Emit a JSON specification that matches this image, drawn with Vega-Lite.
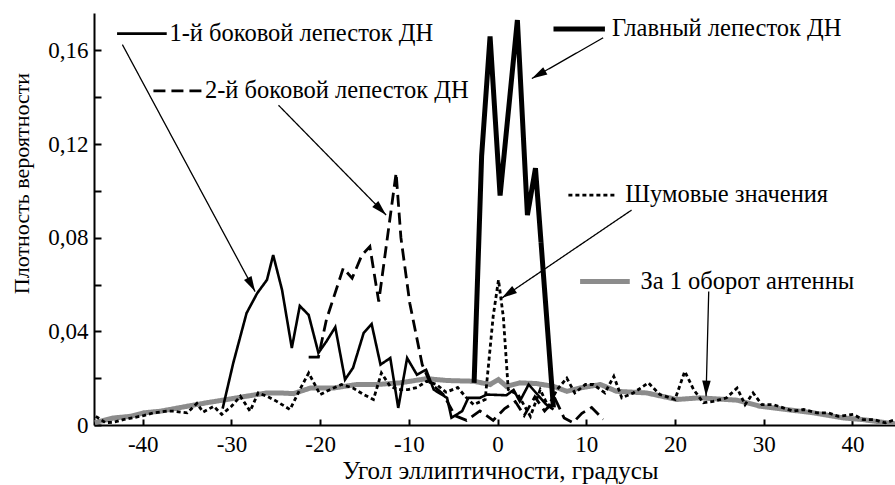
{
  "$schema": "https://vega.github.io/schema/vega-lite/v6.json",
  "width": 801,
  "height": 412,
  "autosize": {"type": "none"},
  "padding": {"left": 94, "top": 13, "right": 0, "bottom": 60},
  "background": "white",
  "config": {
    "font": "Liberation Serif, Times New Roman, serif",
    "view": {"stroke": null},
    "axis": {"grid": false, "domainColor": "black", "domainWidth": 2, "tickColor": "black", "tickWidth": 2, "labelColor": "black", "titleColor": "black", "labelFont": "Liberation Serif, Times New Roman, serif", "titleFont": "Liberation Serif, Times New Roman, serif", "labelFontSize": 23, "titleFontSize": 25, "titleFontWeight": "normal"}
  },
  "datasets": {
    "curves": [
      {"series": "gray", "x": -45.4, "y": 0.001},
      {"series": "gray", "x": -43.3, "y": 0.003},
      {"series": "gray", "x": -41.4, "y": 0.0037},
      {"series": "gray", "x": -39.9, "y": 0.0052},
      {"series": "gray", "x": -38.0, "y": 0.0059},
      {"series": "gray", "x": -35.0, "y": 0.008},
      {"series": "gray", "x": -32.8, "y": 0.0095},
      {"series": "gray", "x": -30.5, "y": 0.0109},
      {"series": "gray", "x": -28.3, "y": 0.0123},
      {"series": "gray", "x": -26.0, "y": 0.0137},
      {"series": "gray", "x": -24.5, "y": 0.0137},
      {"series": "gray", "x": -23.0, "y": 0.0134},
      {"series": "gray", "x": -21.1, "y": 0.0158},
      {"series": "gray", "x": -18.5, "y": 0.0158},
      {"series": "gray", "x": -15.9, "y": 0.0173},
      {"series": "gray", "x": -13.6, "y": 0.0173},
      {"series": "gray", "x": -11.0, "y": 0.018},
      {"series": "gray", "x": -8.0, "y": 0.0198},
      {"series": "gray", "x": -5.7, "y": 0.019},
      {"series": "gray", "x": -2.7, "y": 0.0187},
      {"series": "gray", "x": -0.85, "y": 0.0173},
      {"series": "gray", "x": 0.1, "y": 0.0194},
      {"series": "gray", "x": 1.0, "y": 0.0165},
      {"series": "gray", "x": 2.5, "y": 0.018},
      {"series": "gray", "x": 4.4, "y": 0.0177},
      {"series": "gray", "x": 6.3, "y": 0.0165},
      {"series": "gray", "x": 7.8, "y": 0.0144},
      {"series": "gray", "x": 9.3, "y": 0.0158},
      {"series": "gray", "x": 11.6, "y": 0.0173},
      {"series": "gray", "x": 13.4, "y": 0.0144},
      {"series": "gray", "x": 16.8, "y": 0.0137},
      {"series": "gray", "x": 20.2, "y": 0.0109},
      {"series": "gray", "x": 22.8, "y": 0.0116},
      {"series": "gray", "x": 27.0, "y": 0.0106},
      {"series": "gray", "x": 29.6, "y": 0.008},
      {"series": "gray", "x": 32.6, "y": 0.0066},
      {"series": "gray", "x": 35.6, "y": 0.0052},
      {"series": "gray", "x": 39.0, "y": 0.003},
      {"series": "gray", "x": 41.2, "y": 0.0023},
      {"series": "gray", "x": 43.9, "y": 0.0009},
      {"series": "gray", "x": 44.8, "y": 0.0005},

      {"series": "noise", "x": -45.3, "y": 0.0037},
      {"series": "noise", "x": -44.2, "y": 0.001},
      {"series": "noise", "x": -43.3, "y": 0.0012},
      {"series": "noise", "x": -42.2, "y": 0.0023},
      {"series": "noise", "x": -39.9, "y": 0.004},
      {"series": "noise", "x": -38.8, "y": 0.0052},
      {"series": "noise", "x": -37.3, "y": 0.0059},
      {"series": "noise", "x": -36.5, "y": 0.0059},
      {"series": "noise", "x": -35.0, "y": 0.0052},
      {"series": "noise", "x": -33.9, "y": 0.0092},
      {"series": "noise", "x": -33.2, "y": 0.0055},
      {"series": "noise", "x": -32.0, "y": 0.008},
      {"series": "noise", "x": -31.1, "y": 0.0045},
      {"series": "noise", "x": -30.0, "y": 0.008},
      {"series": "noise", "x": -29.0, "y": 0.0123},
      {"series": "noise", "x": -27.9, "y": 0.0059},
      {"series": "noise", "x": -27.0, "y": 0.0137},
      {"series": "noise", "x": -26.0, "y": 0.0123},
      {"series": "noise", "x": -24.9, "y": 0.0101},
      {"series": "noise", "x": -23.4, "y": 0.0066},
      {"series": "noise", "x": -22.3, "y": 0.0151},
      {"series": "noise", "x": -21.3, "y": 0.0222},
      {"series": "noise", "x": -20.0, "y": 0.013},
      {"series": "noise", "x": -18.9, "y": 0.0151},
      {"series": "noise", "x": -17.6, "y": 0.0173},
      {"series": "noise", "x": -16.3, "y": 0.0158},
      {"series": "noise", "x": -15.1, "y": 0.013},
      {"series": "noise", "x": -14.0, "y": 0.0109},
      {"series": "noise", "x": -13.1, "y": 0.0222},
      {"series": "noise", "x": -12.1, "y": 0.0165},
      {"series": "noise", "x": -11.2, "y": 0.0151},
      {"series": "noise", "x": -10.1, "y": 0.0151},
      {"series": "noise", "x": -9.1, "y": 0.016},
      {"series": "noise", "x": -8.0, "y": 0.0187},
      {"series": "noise", "x": -6.9, "y": 0.0173},
      {"series": "noise", "x": -5.8, "y": 0.014},
      {"series": "noise", "x": -4.5, "y": 0.016},
      {"series": "noise", "x": -3.6, "y": 0.012},
      {"series": "noise", "x": -2.7, "y": 0.0087},
      {"series": "noise", "x": -1.4, "y": 0.0109},
      {"series": "noise", "x": -0.5, "y": 0.0464},
      {"series": "noise", "x": 0.1, "y": 0.062},
      {"series": "noise", "x": 0.65, "y": 0.046},
      {"series": "noise", "x": 1.2, "y": 0.0151},
      {"series": "noise", "x": 2.3, "y": 0.013},
      {"series": "noise", "x": 3.7, "y": 0.0037},
      {"series": "noise", "x": 4.8, "y": 0.0151},
      {"series": "noise", "x": 5.7, "y": 0.008},
      {"series": "noise", "x": 6.7, "y": 0.0151},
      {"series": "noise", "x": 7.8, "y": 0.02},
      {"series": "noise", "x": 8.7, "y": 0.0137},
      {"series": "noise", "x": 9.9, "y": 0.0173},
      {"series": "noise", "x": 10.8, "y": 0.0173},
      {"series": "noise", "x": 12.1, "y": 0.0137},
      {"series": "noise", "x": 13.1, "y": 0.0208},
      {"series": "noise", "x": 14.0, "y": 0.0116},
      {"series": "noise", "x": 15.3, "y": 0.0137},
      {"series": "noise", "x": 17.0, "y": 0.018},
      {"series": "noise", "x": 18.3, "y": 0.013},
      {"series": "noise", "x": 20.0, "y": 0.0109},
      {"series": "noise", "x": 21.1, "y": 0.0229},
      {"series": "noise", "x": 22.1, "y": 0.0151},
      {"series": "noise", "x": 23.2, "y": 0.0095},
      {"series": "noise", "x": 24.3, "y": 0.0101},
      {"series": "noise", "x": 25.8, "y": 0.0116},
      {"series": "noise", "x": 27.0, "y": 0.0158},
      {"series": "noise", "x": 27.9, "y": 0.0087},
      {"series": "noise", "x": 28.8, "y": 0.0137},
      {"series": "noise", "x": 29.8, "y": 0.0087},
      {"series": "noise", "x": 31.1, "y": 0.0087},
      {"series": "noise", "x": 32.2, "y": 0.0073},
      {"series": "noise", "x": 33.3, "y": 0.0059},
      {"series": "noise", "x": 34.5, "y": 0.0066},
      {"series": "noise", "x": 36.0, "y": 0.0052},
      {"series": "noise", "x": 37.3, "y": 0.0052},
      {"series": "noise", "x": 38.4, "y": 0.0037},
      {"series": "noise", "x": 40.1, "y": 0.0045},
      {"series": "noise", "x": 41.2, "y": 0.0023},
      {"series": "noise", "x": 42.4, "y": 0.0023},
      {"series": "noise", "x": 43.7, "y": 0.0009},
      {"series": "noise", "x": 44.8, "y": 0.0023},

      {"series": "side2", "x": -21.3, "y": 0.029},
      {"series": "side2", "x": -20.2, "y": 0.029},
      {"series": "side2", "x": -19.3, "y": 0.045},
      {"series": "side2", "x": -17.4, "y": 0.067},
      {"series": "side2", "x": -16.4, "y": 0.0627},
      {"series": "side2", "x": -15.3, "y": 0.0726},
      {"series": "side2", "x": -14.4, "y": 0.0762},
      {"series": "side2", "x": -13.4, "y": 0.0527},
      {"series": "side2", "x": -11.44, "y": 0.1077},
      {"series": "side2", "x": -10.9, "y": 0.08},
      {"series": "side2", "x": -9.9, "y": 0.052},
      {"series": "side2", "x": -8.5, "y": 0.0258},
      {"series": "side2", "x": -7.6, "y": 0.018},
      {"series": "side2", "x": -6.1, "y": 0.013},
      {"series": "side2", "x": -4.8, "y": 0.004},
      {"series": "side2", "x": -3.5, "y": 0.002},
      {"series": "side2", "x": -2.0, "y": 0.006},
      {"series": "side2", "x": -0.5, "y": 0.002},
      {"series": "side2", "x": 0.8, "y": 0.007},
      {"series": "side2", "x": 2.0, "y": 0.01},
      {"series": "side2", "x": 3.0, "y": 0.004},
      {"series": "side2", "x": 4.2, "y": 0.012},
      {"series": "side2", "x": 5.3, "y": 0.006},
      {"series": "side2", "x": 6.5, "y": 0.011},
      {"series": "side2", "x": 7.5, "y": 0.003},
      {"series": "side2", "x": 8.5, "y": 0.001},
      {"series": "side2", "x": 9.5, "y": 0.005},
      {"series": "side2", "x": 10.6, "y": 0.0075},
      {"series": "side2", "x": 11.9, "y": 0.0024},

      {"series": "side1", "x": -31.0, "y": 0.007},
      {"series": "side1", "x": -29.8, "y": 0.0265},
      {"series": "side1", "x": -28.3, "y": 0.0478},
      {"series": "side1", "x": -27.1, "y": 0.0563},
      {"series": "side1", "x": -26.0, "y": 0.062},
      {"series": "side1", "x": -25.3, "y": 0.0726},
      {"series": "side1", "x": -24.3, "y": 0.0577},
      {"series": "side1", "x": -23.2, "y": 0.0329},
      {"series": "side1", "x": -22.3, "y": 0.0509},
      {"series": "side1", "x": -21.3, "y": 0.047},
      {"series": "side1", "x": -20.2, "y": 0.0308},
      {"series": "side1", "x": -19.3, "y": 0.0357},
      {"series": "side1", "x": -18.3, "y": 0.0418},
      {"series": "side1", "x": -17.2, "y": 0.0194},
      {"series": "side1", "x": -16.3, "y": 0.0244},
      {"series": "side1", "x": -15.1, "y": 0.0393},
      {"series": "side1", "x": -14.2, "y": 0.0431},
      {"series": "side1", "x": -13.2, "y": 0.0258},
      {"series": "side1", "x": -12.1, "y": 0.0286},
      {"series": "side1", "x": -11.2, "y": 0.0073},
      {"series": "side1", "x": -10.2, "y": 0.0286},
      {"series": "side1", "x": -9.1, "y": 0.0215},
      {"series": "side1", "x": -8.06, "y": 0.0236},
      {"series": "side1", "x": -7.2, "y": 0.0151},
      {"series": "side1", "x": -5.7, "y": 0.0116},
      {"series": "side1", "x": -5.2, "y": 0.0031},
      {"series": "side1", "x": -4.0, "y": 0.0059},
      {"series": "side1", "x": -3.3, "y": 0.0116},
      {"series": "side1", "x": -2.0, "y": 0.0116},
      {"series": "side1", "x": -1.2, "y": 0.013},
      {"series": "side1", "x": 1.0, "y": 0.0127},
      {"series": "side1", "x": 1.8, "y": 0.015},
      {"series": "side1", "x": 2.5, "y": 0.0101},
      {"series": "side1", "x": 3.5, "y": 0.0173},
      {"series": "side1", "x": 4.5, "y": 0.013},
      {"series": "side1", "x": 5.5, "y": 0.0087},
      {"series": "side1", "x": 6.3, "y": 0.0066},

      {"series": "main", "x": -2.65, "y": 0.018},
      {"series": "main", "x": -1.8, "y": 0.115},
      {"series": "main", "x": -0.85, "y": 0.166},
      {"series": "main", "x": 0.28, "y": 0.098},
      {"series": "main", "x": 2.23, "y": 0.173},
      {"series": "main", "x": 3.36, "y": 0.0897},
      {"series": "main", "x": 4.27, "y": 0.1097},
      {"series": "main", "x": 6.29, "y": 0.0075}
    ],
    "samples": [
      {"series": "side1", "x": -42.9, "x2": -37.3, "y": 0.1672},
      {"series": "side2", "x": -38.8, "x2": -33.35, "y": 0.1427},
      {"series": "main", "x": 6.3, "x2": 12.1, "y": 0.1692},
      {"series": "noise", "x": 7.98, "x2": 13.4, "y": 0.0982},
      {"series": "gray", "x": 9.3, "x2": 14.9, "y": 0.0613}
    ],
    "labels": [
      {"x": -37.0, "y": 0.1672, "text": "1-й боковой лепесток ДН"},
      {"x": -33.0, "y": 0.1427, "text": "2-й боковой лепесток ДН"},
      {"x": 12.9, "y": 0.1692, "text": "Главный лепесток ДН"},
      {"x": 14.4, "y": 0.0982, "text": "Шумовые значения"},
      {"x": 16.1, "y": 0.0613, "text": "За 1 оборот антенны"}
    ],
    "arrows": [
      {"x": -42.3, "y": 0.1625, "x2": -27.34, "y2": 0.057},
      {"x": -24.7, "y": 0.1366, "x2": -12.57, "y2": 0.0897},
      {"x": 11.9, "y": 0.1654, "x2": 3.86, "y2": 0.148},
      {"x": 15.1, "y": 0.0918, "x2": 0.47, "y2": 0.0542},
      {"x": 23.8, "y": 0.057, "x2": 23.5, "y2": 0.0123}
    ]
  },
  "encoding": {
    "x": {
      "field": "x", "type": "quantitative",
      "scale": {"domain": [-45.5, 44.8], "nice": false, "zero": false},
      "axis": {
        "title": "Угол эллиптичности, градусы",
        "values": [-40, -30, -20, -10, 0, 10, 20, 30, 40],
        "labelExpr": "datum.value + ''",
        "tickSize": -6,
        "labelPadding": 14,
        "titleX": 406, "titleY": 45, "titleAnchor": null, "titleAlign": "center", "titleBaseline": "middle"
      }
    },
    "y": {
      "field": "y", "type": "quantitative",
      "scale": {"domain": [0, 0.176], "nice": false},
      "axis": {
        "title": "Плотность вероятности",
        "values": [0, 0.02, 0.04, 0.06, 0.08, 0.1, 0.12, 0.14, 0.16],
        "labelExpr": "round(datum.value*100) % 4 == 0 ? (datum.value == 0 ? '0' : replace(format(datum.value, '.2f'), '.', ',')) : ''",
        "tickSize": -7,
        "labelPadding": 13,
        "titleFontSize": 22,
        "titleX": -73, "titleY": 170, "titleAngle": -90, "titleAlign": "center", "titleBaseline": "middle"
      }
    },
    "color": {"field": "series", "type": "nominal", "legend": null,
      "scale": {"domain": ["main", "side1", "side2", "noise", "gray"], "range": ["#000000", "#000000", "#000000", "#000000", "#8c8c8c"]}},
    "strokeWidth": {"field": "series", "type": "nominal", "legend": null,
      "scale": {"type": "ordinal", "domain": ["main", "side1", "side2", "noise", "gray"], "range": [5, 2.6, 2.8, 2.8, 5]}},
    "strokeDash": {"field": "series", "type": "nominal", "legend": null,
      "scale": {"type": "ordinal", "domain": ["main", "side1", "side2", "noise", "gray"], "range": [[1, 0], [1, 0], [12, 6], [4, 3], [1, 0]]}}
  },
  "layer": [
    {
      "data": {"name": "curves"},
      "transform": [{"filter": "datum.series == 'gray'"}],
      "mark": {"type": "line", "clip": true}
    },
    {
      "data": {"name": "curves"},
      "transform": [{"filter": "datum.series != 'gray'"}],
      "mark": {"type": "line", "clip": true}
    },
    {
      "data": {"name": "samples"},
      "mark": {"type": "rule"},
      "encoding": {"x2": {"field": "x2"}}
    },
    {
      "data": {"name": "arrows"},
      "mark": {"type": "rule", "color": "black", "strokeWidth": 1.3},
      "encoding": {"x2": {"field": "x2"}, "y2": {"field": "y2"}, "color": {"value": "black"}, "strokeWidth": {"value": 1.3}, "strokeDash": {"value": [1, 0]}}
    },
    {
      "data": {"name": "arrows"},
      "transform": [{"calculate": "atan2((datum.x2 - datum.x) * 8.87, (datum.y2 - datum.y) * 2347) * 180 / PI", "as": "ang"}],
      "mark": {"type": "point", "filled": true, "shape": "M0,0L-0.55,2L0.55,2Z", "size": 240, "opacity": 1},
      "encoding": {
        "x": {"field": "x2", "type": "quantitative"},
        "y": {"field": "y2", "type": "quantitative"},
        "angle": {"field": "ang", "type": "quantitative", "scale": null},
        "color": {"value": "black"},
        "strokeWidth": {"value": 0},
        "strokeDash": {"value": [1, 0]}
      }
    },
    {
      "data": {"name": "labels"},
      "mark": {"type": "text", "align": "left", "baseline": "middle", "fontSize": 24.5, "font": "Liberation Serif, Times New Roman, serif"},
      "encoding": {"text": {"field": "text"}, "color": {"value": "black"}, "strokeWidth": {"value": 0}, "strokeDash": {"value": [1, 0]}}
    }
  ]
}
